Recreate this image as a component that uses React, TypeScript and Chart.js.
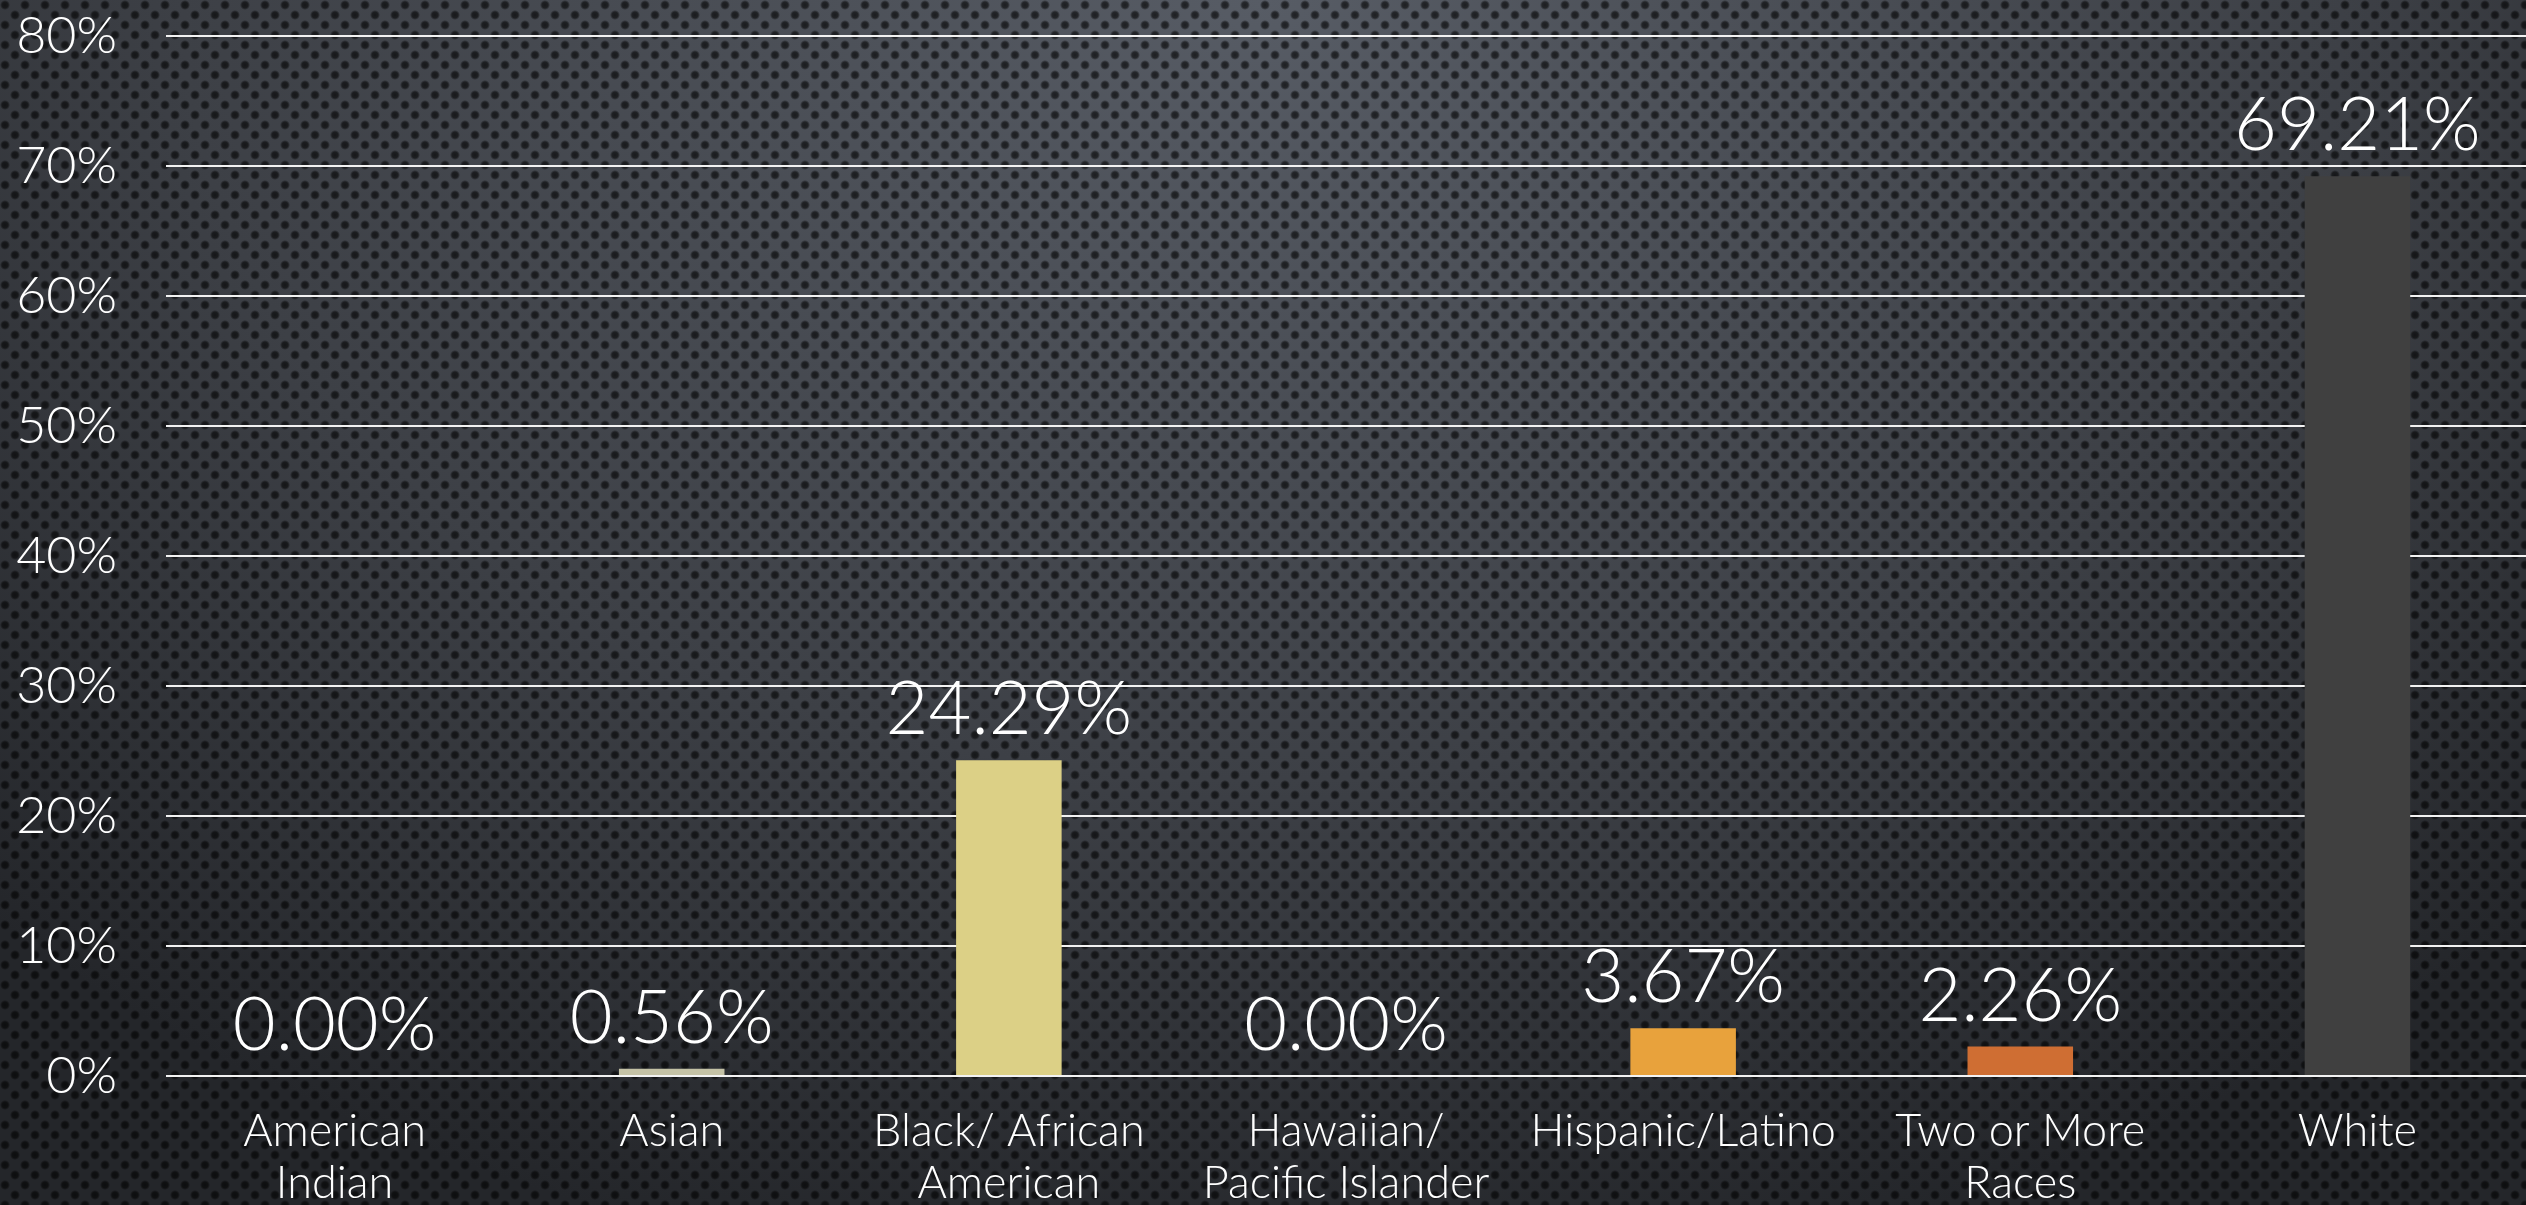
import React, { useEffect, useRef } from "react";
import { Chart, registerables } from "chart.js";

Chart.register(...registerables);

const categories: string[][] = [
  ["American", "Indian"],
  ["Asian"],
  ["Black/ African", "American"],
  ["Hawaiian/", "Pacific Islander"],
  ["Hispanic/Latino"],
  ["Two or More", "Races"],
  ["White"],
];
const values: number[] = [0.0, 0.56, 24.29, 0.0, 3.67, 2.26, 69.21];
const valueLabels: string[] = ["0.00%", "0.56%", "24.29%", "0.00%", "3.67%", "2.26%", "69.21%"];
const barColors: string[] = ["#8c8c8c", "#c4c2a6", "#dcd086", "#9c9c9c", "#e8a23c", "#cf6e33", "#404040"];
const yMin = 0;
const yMax = 80;
const yStep = 10;

const FONT = "Lato, 'Open Sans', 'DejaVu Sans', sans-serif";

const backgroundPlugin = {
  id: "metalBackground",
  beforeDraw(chart: any) {
    const { ctx, width, height } = chart;
    ctx.save();
    ctx.save();
    const cx = width / 2;
    const rx = 1800;
    const ry = 1300;
    ctx.translate(cx, 0);
    ctx.scale(rx / ry, 1);
    const g = ctx.createRadialGradient(0, 0, 0, 0, 0, ry);
    g.addColorStop(0, "#575c65");
    g.addColorStop(0.6, "#3d4046");
    g.addColorStop(1, "#24262a");
    ctx.fillStyle = g;
    ctx.fillRect(-cx * (ry / rx) - 10, -10, width * (ry / rx) + 20, height + 20);
    ctx.restore();
    const pc = document.createElement("canvas");
    pc.width = 20;
    pc.height = 20;
    const p = pc.getContext("2d")!;
    const dot = (x: number, y: number) => {
      const rg = p.createRadialGradient(x, y, 0, x, y, 5);
      rg.addColorStop(0, "rgba(0,0,0,0.65)");
      rg.addColorStop(0.6, "rgba(0,0,0,0.55)");
      rg.addColorStop(1, "rgba(0,0,0,0)");
      p.fillStyle = rg;
      p.beginPath();
      p.arc(x, y, 5, 0, Math.PI * 2);
      p.fill();
    };
    dot(5, 5);
    dot(15, 15);
    const pat = ctx.createPattern(pc, "repeat");
    if (pat) {
      ctx.fillStyle = pat;
      ctx.fillRect(0, 0, width, height);
    }
    ctx.restore();
  },
};

const valueLabelPlugin = {
  id: "valueLabels",
  afterDatasetsDraw(chart: any) {
    const { ctx } = chart;
    const meta = chart.getDatasetMeta(0);
    ctx.save();
    ctx.fillStyle = "#ffffff";
    ctx.font = `300 74px ${FONT}`;
    ctx.textAlign = "center";
    ctx.textBaseline = "alphabetic";
    meta.data.forEach((bar: any, i: number) => {
      ctx.fillText(valueLabels[i], bar.x, bar.y - 26);
    });
    ctx.restore();
  },
};

export default function App() {
  const ref = useRef<HTMLCanvasElement>(null);
  useEffect(() => {
    if (!ref.current) return;
    const chart = new Chart(ref.current, {
      type: "bar",
      data: {
        labels: categories,
        datasets: [
          {
            data: values,
            backgroundColor: barColors,
            borderWidth: 0,
            barPercentage: 1,
            categoryPercentage: 0.313,
          },
        ],
      },
      options: {
        animation: false,
        responsive: false,
        devicePixelRatio: 1,
        layout: { padding: { top: 36, right: 0, bottom: 0, left: 0 } },
        plugins: { legend: { display: false }, tooltip: { enabled: false } },
        scales: {
          x: {
            afterFit: (s: any) => {
              s.height = 129;
              s.paddingLeft = 0;
              s.paddingRight = 0;
            },
            grid: { display: false, drawTicks: false },
            border: { display: false },
            ticks: {
              color: "#ffffff",
              font: { family: FONT, size: 45, weight: "300", lineHeight: 1.15 },
              padding: 30,
              maxRotation: 0,
              autoSkip: false,
            },
          },
          y: {
            min: yMin,
            max: yMax,
            afterFit: (s: any) => {
              s.width = 166;
              s.paddingTop = 0;
              s.paddingBottom = 0;
            },
            grid: { color: "#f2f2f2", lineWidth: 2, drawTicks: false },
            border: { display: false },
            ticks: {
              stepSize: yStep,
              color: "#ffffff",
              font: { family: FONT, size: 52, weight: "300" },
              padding: 49,
              callback: (v: any) => `${v}%`,
            },
          },
        },
      },
      plugins: [backgroundPlugin, valueLabelPlugin],
    });
    return () => chart.destroy();
  }, []);
  return (
    <div
      style={{
        position: "fixed",
        left: 0,
        top: 0,
        width: 2526,
        height: 1205,
        overflow: "hidden",
        background: "#25272b",
      }}
    >
      <canvas ref={ref} width={2526} height={1205} style={{ display: "block", width: 2526, height: 1205 }} />
    </div>
  );
}
